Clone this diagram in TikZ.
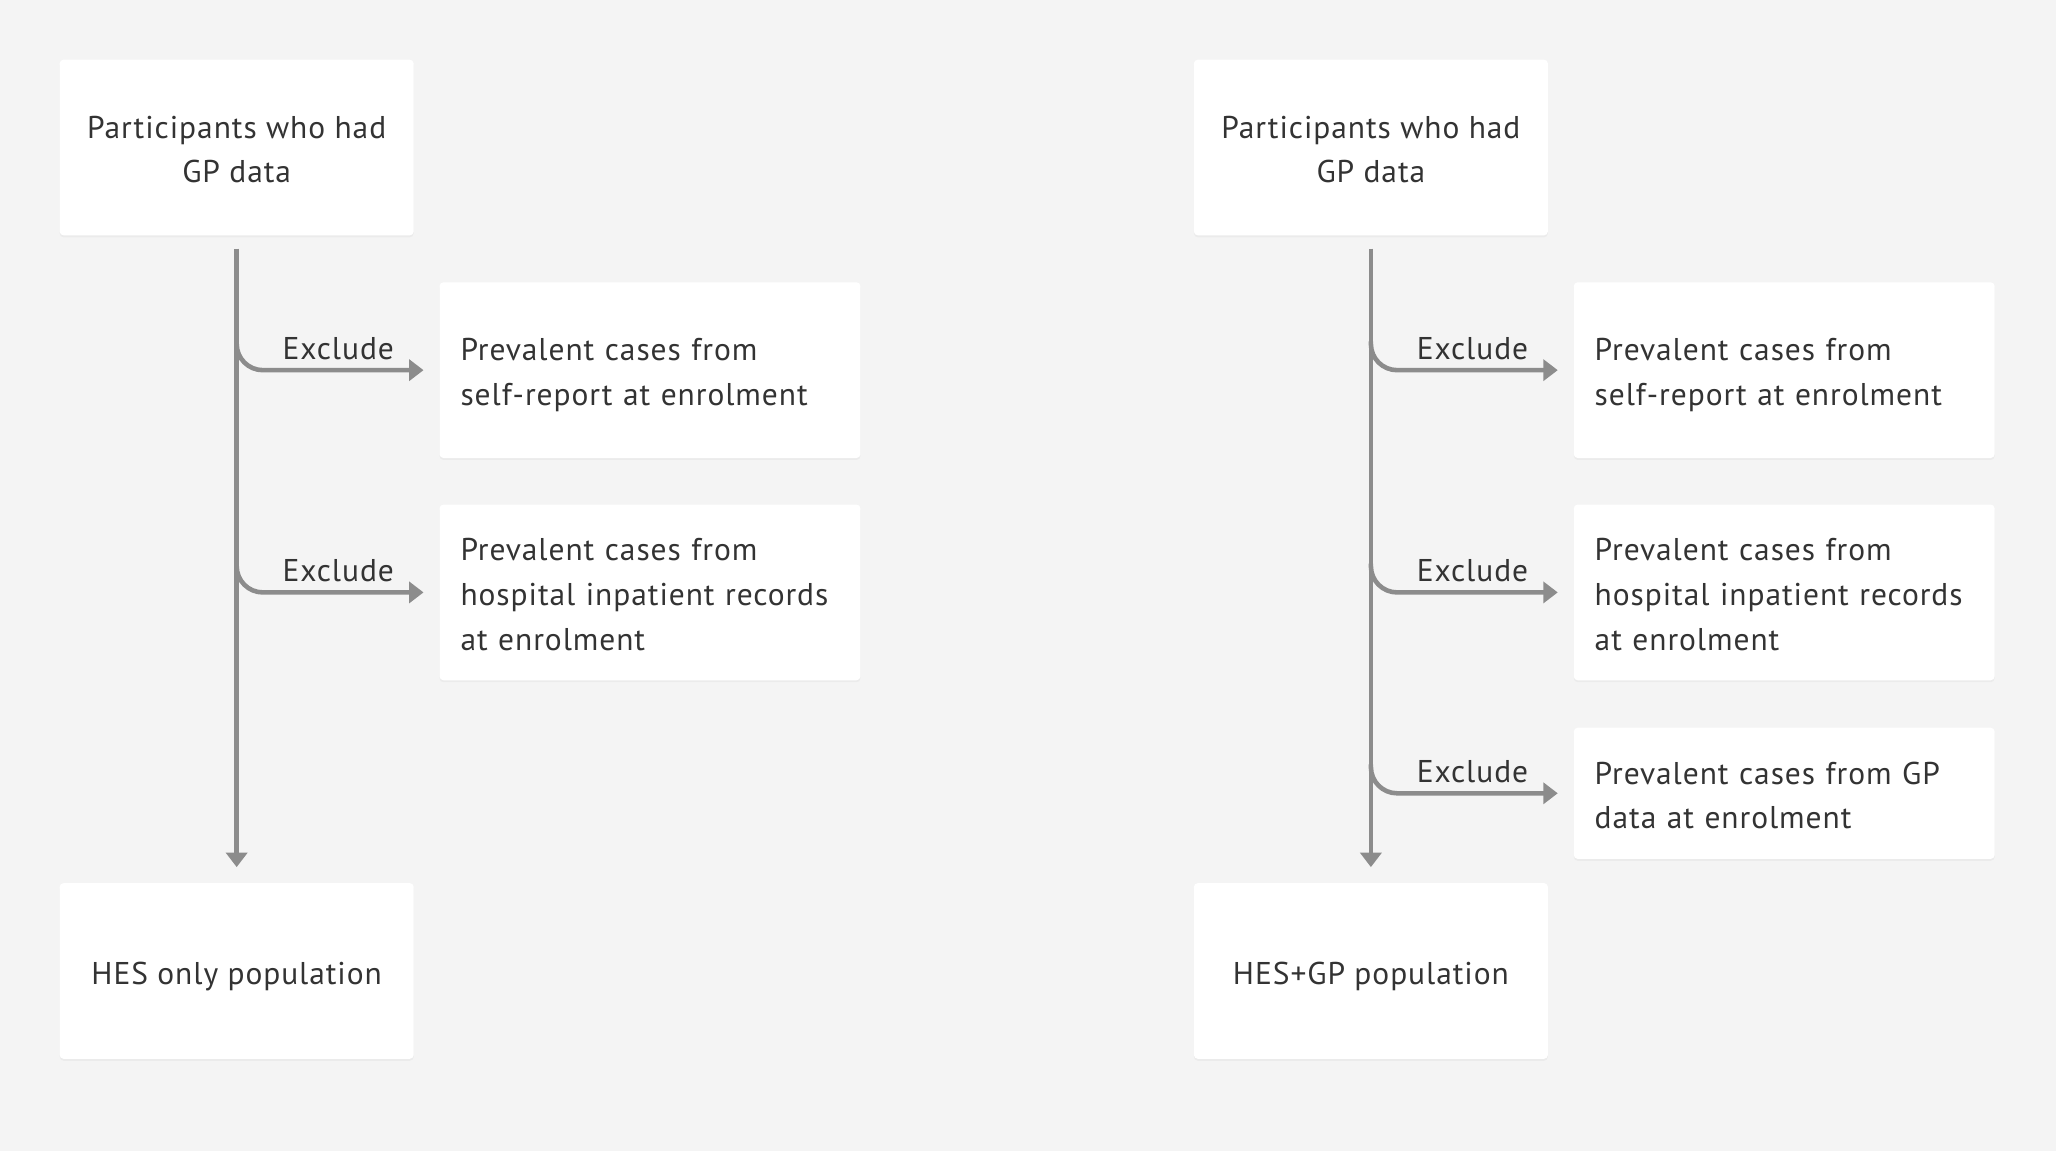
\documentclass[tikz,border=0pt]{standalone}
\usepackage{fontspec}
\setmainfont{PT Sans}[LetterSpace=3]
\usetikzlibrary{arrows.meta,shadows}
\definecolor{bg}{HTML}{F4F4F4}
\definecolor{txt}{HTML}{333333}
\definecolor{arr}{HTML}{8C8C8C}
\newcommand\fstline{\rule{0pt}{28pt}}
\newcommand\lstline{\rule[-8pt]{0pt}{8pt}}
\begin{document}
\begin{tikzpicture}[x=1pt,y=-1pt,
  box/.style={fill=white, rounded corners=3pt, draw=none,
    drop shadow={opacity=0.07, shadow xshift=0pt, shadow yshift=-1.5pt},
    text=txt, font=\fontsize{24}{34}\selectfont, inner sep=0pt},
  mainbox/.style={box, minimum width=270pt, minimum height=134pt, align=center},
  exbox/.style={box, minimum width=321pt, text width=289pt, align=left, anchor=west, inner xsep=16pt, minimum height=134pt},
  flow/.style={draw=arr, line width=3.5pt, -{Triangle[length=11pt,width=16pt]}},
  branch/.style={flow, rounded corners=20pt},
  lbl/.style={text=txt, font=\fontsize{24}{26}\selectfont, inner sep=0pt, anchor=base}
]
\fill[bg] (0,0) rectangle (1568,878);
\useasboundingbox (0,0) rectangle (1568,878);

% left column
\node[mainbox] (t1) at (180.5,112.5) {\fstline Participants who had\\GP data\lstline};
\node[mainbox] (b1) at (180.5,740.5) {\fstline HES only population\lstline};
\node[exbox] (e1) at (335,282.3) {\fstline Prevalent cases from\\self-report at enrolment\lstline};
\node[exbox] (e2) at (335,451.8) {\fstline Prevalent cases from\\hospital inpatient records\\at enrolment\lstline};

\draw[flow] ([yshift=-10pt]t1.south) -- ([yshift=12pt]b1.north);
\draw[branch] ([yshift=22pt]t1.south |- e1.west) |- ([xshift=-12pt]e1.west);
\draw[branch] ([yshift=22pt]t1.south |- e2.west) |- ([xshift=-12pt]e2.west);
\path (e1.west) ++(-77,-8) node[lbl] {Exclude};
\path (e2.west) ++(-77,-8) node[lbl] {Exclude};

% right column
\node[mainbox] (t2) at (1045.5,112.5) {\fstline Participants who had\\GP data\lstline};
\node[mainbox] (b2) at (1045.5,740.5) {\fstline HES+GP population\lstline};
\node[exbox] (e3) at (1200,282.3) {\fstline Prevalent cases from\\self-report at enrolment\lstline};
\node[exbox] (e4) at (1200,451.8) {\fstline Prevalent cases from\\hospital inpatient records\\at enrolment\lstline};
\node[exbox, minimum height=100pt] (e5) at (1200,605) {\fstline Prevalent cases from GP\\data at enrolment\lstline};

\draw[flow] ([yshift=-10pt]t2.south) -- ([yshift=12pt]b2.north);
\draw[branch] ([yshift=22pt]t2.south |- e3.west) |- ([xshift=-12pt]e3.west);
\draw[branch] ([yshift=22pt]t2.south |- e4.west) |- ([xshift=-12pt]e4.west);
\draw[branch] ([yshift=22pt]t2.south |- e5.west) |- ([xshift=-12pt]e5.west);
\path (e3.west) ++(-77,-8) node[lbl] {Exclude};
\path (e4.west) ++(-77,-8) node[lbl] {Exclude};
\path (e5.west) ++(-77,-8) node[lbl] {Exclude};
\end{tikzpicture}
\end{document}
